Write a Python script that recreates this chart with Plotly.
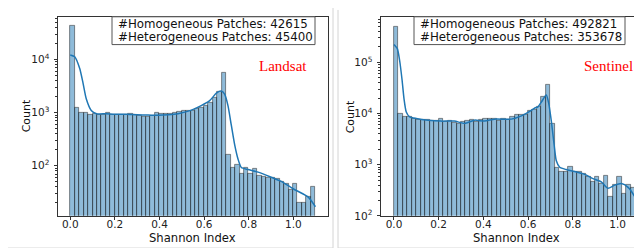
import numpy as np
import plotly.graph_objects as go

# ---------------- data ----------------
N_BINS = 55
X_MAX = 1.0986  # ln(3)

landsat_counts = [42615, 1245, 977, 1000, 900, 940, 930, 930, 975, 930,
                  910, 910, 920, 960, 900, 860, 830, 840, 870, 980,
                  960, 950, 960, 1000, 1030, 1060, 1080, 1100, 1180, 1250,
                  1350, 1515, 1875, 2450, 5530, 164, 91, 103, 70, 90,
                  70, 87, 66, 61, 60, 59, 57, 50, 46, 35,
                  46, 20, 20, 26, 41]

sentinel_counts = [492821, 9660, 8590, 8590, 8000, 7420, 7400, 7600, 7100, 7100,
                   8000, 6890, 7100, 6700, 6410, 6900, 7100, 7640, 6900, 7640,
                   7760, 8000, 8000, 7100, 8000, 7640, 8570, 9520, 9520, 9240,
                   11500, 12030, 13300, 21000, 36000, 6410, 853, 736, 716, 916,
                   716, 736, 665, 575, 462, 575, 429, 617, 239, 410,
                   575, 269, 398, 360, 239]

landsat_kde_x = [0.0, 0.02, 0.042, 0.057, 0.072, 0.094, 0.117, 0.16, 0.2, 0.25,
                 0.3, 0.35, 0.393, 0.44, 0.483, 0.54, 0.587, 0.625, 0.655, 0.677,
                 0.692, 0.707, 0.722, 0.737, 0.752, 0.767, 0.797, 0.842, 0.901, 0.946,
                 0.999, 1.066, 1.099]
landsat_kde_y = [12100, 11200, 6800, 3630, 1800, 1100, 955, 950, 930, 935,
                 910, 900, 890, 910, 955, 1100, 1350, 1675, 2320, 2560,
                 2220, 1350, 580, 250, 134, 93, 85, 76, 61, 51,
                 37, 26, 17]

sentinel_kde_x = [0.0, 0.015, 0.025, 0.036, 0.045, 0.055, 0.07, 0.1, 0.152, 0.21,
                  0.27, 0.316, 0.36, 0.405, 0.45, 0.525, 0.57, 0.607, 0.63, 0.644,
                  0.66, 0.681, 0.692, 0.704, 0.716, 0.726, 0.741, 0.77, 0.808, 0.853,
                  0.89, 0.927, 0.957, 0.987, 1.017, 1.047, 1.076, 1.098]
sentinel_kde_y = [224000, 185000, 111000, 46200, 19200, 10700, 8600, 8000, 7420, 7100,
                  7100, 6410, 7420, 7100, 7760, 7760, 9000, 11000, 12800, 13500,
                  17000, 22900, 15800, 6900, 2480, 1190, 890, 803, 736, 646,
                  535, 462, 345, 398, 429, 360, 239, 150]

landsat_text = ["#Homogeneous Patches: 42615", "#Heterogeneous Patches: 45400"]
sentinel_text = ["#Homogeneous Patches: 492821", "#Heterogeneous Patches: 353678"]
x_ticks = [0.0, 0.2, 0.4, 0.6, 0.8, 1.0]

# ---------------- layout helpers ----------------
W, H = 642, 248
def px(x):
    return x / W
def py(y):
    return 1 - y / H

edges = np.linspace(0, X_MAX, N_BINS + 1)
centers = (edges[:-1] + edges[1:]) / 2
bw = edges[1] - edges[0]

FONT = "DejaVu Sans"
XLAB_FS = 11.6
YLAB_FS = 10.5
TICK_FS = 10.5
BOX_FS = 11.8
BAR_FILL = "rgba(31,119,180,0.5)"
BAR_EDGE = "rgba(20,20,20,0.6)"
KDE_COLOR = "#1f77b4"
AX_COLOR = "#333333"

fig = go.Figure()

for i, (counts, kx, ky) in enumerate([(landsat_counts, landsat_kde_x, landsat_kde_y),
                                        (sentinel_counts, sentinel_kde_x, sentinel_kde_y)]):
    xa = "x" if i == 0 else "x2"
    ya = "y" if i == 0 else "y2"
    fig.add_trace(go.Bar(x=centers, y=counts, width=bw, xaxis=xa, yaxis=ya,
                         marker=dict(color=BAR_FILL, line=dict(color=BAR_EDGE, width=0.8)),
                         showlegend=False, hoverinfo="skip"))
    fig.add_trace(go.Scatter(x=kx, y=ky, xaxis=xa, yaxis=ya, mode="lines",
                             line=dict(color=KDE_COLOR, width=1.5, shape="spline", smoothing=0.6),
                             showlegend=False, hoverinfo="skip"))

def minor_vals(lo, hi):
    vals = []
    for d in range(lo, hi):
        for m in range(2, 10):
            vals.append(m * 10 ** d)
    return vals

common_x = dict(showline=True, mirror=True, linecolor=AX_COLOR, linewidth=1,
                ticks="outside", ticklen=3.5, tickwidth=0.8, tickcolor=AX_COLOR,
                tickvals=x_ticks, tickformat=".1f", showgrid=False, zeroline=False,
                ticklabelstandoff=-5,
                tickfont=dict(family=FONT, size=TICK_FS, color="#222"))
common_y = dict(type="log", showline=True, mirror=True, linecolor=AX_COLOR, linewidth=1,
                ticks="outside", ticklen=3.5, tickwidth=0.8, tickcolor=AX_COLOR,
                showgrid=False, zeroline=False, ticklabelstandoff=2,
                tickfont=dict(family=FONT, size=TICK_FS, color="#222"))

ydom = [py(213), py(9)]
fig.update_layout(
    width=W, height=H, margin=dict(l=0, r=0, t=0, b=0),
    paper_bgcolor="white", plot_bgcolor="white", bargap=0,
    xaxis=dict(domain=[px(50), px(320)], range=[-0.055, 1.1555], anchor="y", **common_x),
    yaxis=dict(domain=ydom, range=[1.059, 4.802], anchor="x",
               tickvals=[100, 1000, 10000],
               ticktext=["10<sup>2</sup>", "10<sup>3</sup>", "10<sup>4</sup>"],
               minor=dict(ticks="outside", ticklen=2, tickwidth=0.6, tickcolor=AX_COLOR,
                          tickvals=minor_vals(1, 5)),
               **common_y),
    xaxis2=dict(domain=[px(373), px(638)], range=[-0.058, 1.127], anchor="y2", **common_x),
    yaxis2=dict(domain=ydom, range=[2.0, 5.89], anchor="x2",
                tickvals=[100, 1000, 10000, 100000],
                ticktext=["10<sup>2</sup>", "10<sup>3</sup>", "10<sup>4</sup>", "10<sup>5</sup>"],
                minor=dict(ticks="outside", ticklen=2, tickwidth=0.6, tickcolor=AX_COLOR,
                           tickvals=minor_vals(2, 6)),
                **common_y),
)

shapes = []
annotations = []
# panel frames
FRAME = "#d4d4d4"
shapes.append(dict(type="line", xref="paper", yref="paper", x0=px(325), x1=px(325), y0=py(0), y1=py(246),
                   line=dict(color=FRAME, width=1)))
shapes.append(dict(type="line", xref="paper", yref="paper", x0=0, x1=px(325), y0=py(246), y1=py(246),
                   line=dict(color=FRAME, width=1)))
shapes.append(dict(type="line", xref="paper", yref="paper", x0=px(330), x1=px(330), y0=py(2), y1=py(246),
                   line=dict(color=FRAME, width=1)))
shapes.append(dict(type="line", xref="paper", yref="paper", x0=px(330), x1=1, y0=py(246), y1=py(246),
                   line=dict(color=FRAME, width=1)))

# info boxes
for (x0, x1, lines) in [(104, 307, landsat_text), (406, 617, sentinel_text)]:
    shapes.append(dict(type="rect", xref="paper", yref="paper", x0=px(x0), x1=px(x1), y0=py(37.5), y1=py(9),
                       line=dict(color="#555555", width=1), fillcolor="white", layer="above"))
    for j, t in enumerate(lines):
        annotations.append(dict(text=t, xref="paper", yref="paper", x=px(x0 + 4), y=py(16.7 + 12.8 * j),
                                xanchor="left", yanchor="middle", showarrow=False,
                                font=dict(family=FONT, size=BOX_FS, color="#111")))

# red labels
annotations.append(dict(text="Landsat", xref="paper", yref="paper", x=px(275), y=py(59.5),
                        xanchor="center", yanchor="middle", showarrow=False,
                        font=dict(family="Liberation Serif", size=15, color="red")))
annotations.append(dict(text="Sentinel", xref="paper", yref="paper", x=px(600), y=py(59.5),
                        xanchor="center", yanchor="middle", showarrow=False,
                        font=dict(family="Liberation Serif", size=15, color="red")))

# axis titles
for cx in [185, 508]:
    annotations.append(dict(text="Shannon Index", xref="paper", yref="paper", x=px(cx), y=py(236),
                            xanchor="center", yanchor="middle", showarrow=False,
                            font=dict(family=FONT, size=XLAB_FS, color="#111")))
for cx in [18, 342]:
    annotations.append(dict(text="Count", xref="paper", yref="paper", x=px(cx), y=py(111),
                            xanchor="center", yanchor="middle", showarrow=False, textangle=-90,
                            font=dict(family=FONT, size=YLAB_FS + 0.5, color="#111")))

fig.update_layout(shapes=shapes, annotations=annotations)
fig.write_html("out.html")
